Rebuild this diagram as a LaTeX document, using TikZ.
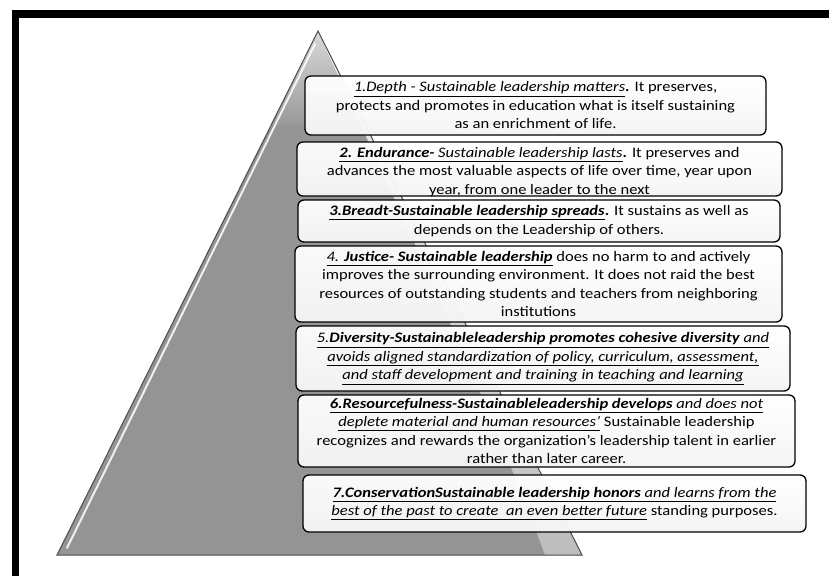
\documentclass[tikz,border=0pt]{standalone}
\usepackage{fontspec}
\setmainfont{Carlito}[FakeStretch=1.14]
\usetikzlibrary{calc}
% underline with a fixed depth so all segments line up
\newcommand{\usl}[1]{\underline{#1\vphantom{gp}}}
\newcommand{\bi}[1]{\textbf{\textit{#1}}}
\begin{document}
\begin{tikzpicture}[x=1pt,y=-1pt,
  card/.style={draw=black, line width=1.3pt, rounded corners=6pt,
    top color=white, bottom color=black!4, fill opacity=0.96},
  cardtext/.style={align=center, inner sep=0pt,
    font=\fontsize{14.5}{18.5}\selectfont},
]
\useasboundingbox (0,0) rectangle (829,576);
\fill[white] (0,0) rectangle (829,576);

% frame bars (top and left)
\fill[black] (12,10) rectangle (829,18);
\fill[black] (12,10) rectangle (19,576);

% pyramid
\coordinate (apex) at (318,31);
\coordinate (bl) at (57,555);
\coordinate (br) at (582,555);
\fill[black!42] (apex) -- (br) -- (bl) -- cycle;
\shade[top color=black!15, bottom color=black!40] (apex) -- ($(apex)!0.18!(br)$) -- ($(apex)!0.18!(bl)$) -- cycle;
% glare on the right flank
\shade[top color=black!6, bottom color=black!26]
  (321,38) .. controls (390,190) and (480,380) .. (545,555) -- (br) -- (apex) -- cycle;
% bevel highlight along the left edge
\draw[white, line width=2pt, opacity=0.85, line cap=round] (315,44) -- (67,548);
\draw[black!70, line width=1pt, line join=miter] (apex) -- (br) -- (bl) -- cycle;

% boxes
\node[card, minimum width=461pt, minimum height=59pt] (b1) at (535.5,105.5) {};
\node[card, minimum width=485pt, minimum height=54pt] (b2) at (539.5,169) {};
\node[card, minimum width=482pt, minimum height=42pt] (b3) at (539,221) {};
\node[card, minimum width=487pt, minimum height=76pt] (b4) at (538.5,284) {};
\node[card, minimum width=494pt, minimum height=65pt] (b5) at (543,358.5) {};
\node[card, minimum width=497pt, minimum height=72pt] (b6) at (546.5,431) {};
\node[card, minimum width=503pt, minimum height=57pt] (b7) at (554.5,503.5) {};

% texts
\node[cardtext] (t1) at (b1.center) {%
  \usl{\textit{1.Depth - Sustainable leadership matters}}\textbf{.} It preserves,\\
  protects and promotes in education what is itself sustaining\\
  as an enrichment of life.};
\node[cardtext] (t2) at ($(b2.center)+(0,3)$) {%
  \usl{\bi{2. Endurance-}\textit{ Sustainable leadership lasts}}\textbf{.} It preserves and\\
  advances the most valuable aspects of life over time, year upon\\
  year, from one leader to the next};
\node[cardtext] (t3) at (b3.center) {%
  \usl{\bi{3.Breadt-Sustainable leadership spreads}}\textbf{.} It sustains as well as\\
  depends on the Leadership of others.};
\node[cardtext] (t4) at (b4.center) {%
  \usl{\textit{4.} \bi{Justice- Sustainable leadership}} does no harm to and actively\\
  improves the surrounding environment. It does not raid the best\\
  resources of outstanding students and teachers from neighboring\\
  institutions};
\node[cardtext] (t5) at (b5.center) {%
  \usl{\textit{5.}\bi{Diversity-Sustainableleadership promotes cohesive diversity}\textit{ and}}\\
  \usl{\textit{avoids aligned standardization of policy, curriculum, assessment,}}\\
  \usl{\textit{and staff development and training in teaching and learning}}};
\node[cardtext] (t6) at (b6.center) {%
  \usl{\bi{6.Resourcefulness-Sustainableleadership develops}\textit{ and does not}}\\
  \usl{\textit{deplete material and human resources’}} Sustainable leadership\\
  recognizes and rewards the organization’s leadership talent in earlier\\
  rather than later career.};
\node[cardtext] (t7) at (b7.center) {%
  \usl{\bi{7.ConservationSustainable leadership honors}\textit{ and learns from the}}\\
  \usl{\textit{best of the past to create\ \ an even better\ future}} standing purposes.};
\end{tikzpicture}
\end{document}
